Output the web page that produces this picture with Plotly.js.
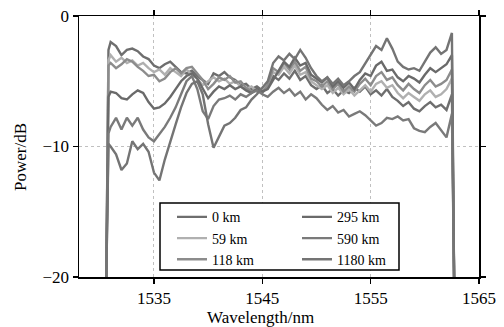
<!DOCTYPE html>
<html>
<head>
<meta charset="utf-8">
<script src="https://cdn.plot.ly/plotly-3.0.1.min.js"></script>
<style>
  html, body { margin: 0; padding: 0; background: #ffffff; }
  #chart { width: 504px; height: 327px; }
</style>
</head>
<body>
<div id="chart"></div>
<script>
// Wavelength grid (nm) shared by all spectra
const wavelength = [
  1530.6, 1530.8, 1531.0, 1531.5, 1532.0, 1532.5, 1533.0, 1533.5, 1534.0, 1534.5,
  1535.0, 1535.5, 1536.0, 1536.5, 1537.0, 1537.5, 1538.0, 1538.5, 1539.0, 1539.5,
  1540.0, 1540.5, 1541.0, 1541.5, 1542.0, 1542.5, 1543.0, 1543.5, 1544.0, 1544.5,
  1545.0, 1545.5, 1546.0, 1546.5, 1547.0, 1547.5, 1548.0, 1548.5, 1549.0, 1549.5,
  1550.0, 1550.5, 1551.0, 1551.5, 1552.0, 1552.5, 1553.0, 1553.5, 1554.0, 1554.5,
  1555.0, 1555.5, 1556.0, 1556.5, 1557.0, 1557.5, 1558.0, 1558.5, 1559.0, 1559.5,
  1560.0, 1560.5, 1561.0, 1561.5, 1562.0, 1562.5, 1562.7
];

// Received power (dB) after each transmission distance
const power0km = [
  -20, -2.6, -2.0, -2.3, -3.0, -2.6, -2.5, -2.7, -3.1, -3.3,
  -3.8, -4.0, -3.7, -3.5, -3.9, -4.3, -4.4, -4.2, -4.6, -4.9,
  -5.2, -4.4, -4.6, -4.3, -4.7, -4.9, -5.3, -5.2, -5.6, -5.4,
  -5.7, -5.5, -4.6, -4.9, -4.4, -4.8, -4.2, -4.9, -4.6, -5.3,
  -5.6, -5.3, -5.9, -5.6, -6.1, -5.7, -5.9, -5.5, -5.8, -5.4,
  -6.0, -5.7, -6.1, -5.6, -6.2, -6.5, -6.9, -6.6, -7.1, -7.3,
  -6.9, -6.6, -7.0, -6.8, -7.2, -6.0, -20
];
const power59km = [
  -20, -3.4, -3.0, -3.5, -3.2, -3.6, -3.4, -3.8, -3.6, -4.0,
  -4.3, -4.1, -4.5, -4.0, -4.3, -4.6, -4.1, -4.5, -4.8, -5.3,
  -5.0, -4.7, -5.0, -4.8, -5.2, -5.0, -5.4, -5.6, -5.4, -5.8,
  -5.6, -5.2, -4.3, -4.5, -3.9, -4.4, -3.8, -4.5, -4.3, -5.0,
  -5.3, -5.6, -5.3, -5.9, -5.5, -6.0, -5.6, -6.1, -5.7, -5.3,
  -5.8, -5.2, -5.0, -5.5, -5.3, -5.9, -6.3, -5.9, -6.2, -6.5,
  -6.0, -5.7, -6.2, -6.0, -5.6, -4.8, -20
];
const power118km = [
  -20, -3.8, -3.6, -4.0, -3.7, -3.3, -3.5, -3.9, -4.2, -4.6,
  -4.5, -5.0, -4.8, -4.3, -4.0, -4.4, -4.0, -3.9, -4.4, -4.9,
  -5.6, -5.2, -4.7, -4.9, -4.6, -5.1, -5.0, -5.5, -5.8, -5.6,
  -5.9, -5.3, -4.0, -4.3, -3.6, -4.1, -3.5, -4.2, -3.9, -4.8,
  -5.0, -5.4, -5.0, -5.6, -5.2, -5.8, -5.4, -5.8, -5.2, -4.8,
  -5.3, -4.6, -4.3, -4.9, -4.7, -5.3, -5.7, -5.2, -5.6, -5.9,
  -5.3, -4.9, -5.4, -5.2, -4.9, -4.1, -20
];
const power295km = [
  -20, -6.2, -5.8, -5.9, -6.3, -6.4, -6.0, -5.7, -5.9, -6.6,
  -7.1, -7.0, -6.7, -6.2, -5.6, -5.0, -4.6, -4.4, -4.8, -5.5,
  -6.3, -5.8, -5.4, -5.6, -5.3, -5.6, -5.4, -5.7, -5.9, -5.6,
  -5.8, -5.6, -4.9, -4.1, -3.5, -3.9, -3.2, -3.8, -3.6, -4.5,
  -4.8, -5.1, -4.7, -5.4, -5.0, -5.5, -5.1, -5.6, -4.9, -4.4,
  -4.6, -3.8, -3.5, -4.2, -4.1, -4.7, -5.0, -4.6, -4.8, -5.1,
  -4.5, -4.0, -4.3, -4.0, -3.7, -3.0, -20
];
const power590km = [
  -20, -9.0, -8.5, -7.8, -8.7, -7.8, -8.4, -7.8, -8.7, -9.3,
  -9.6, -9.0, -8.5, -7.8, -7.0, -6.0, -5.0, -4.6, -5.6, -7.3,
  -7.9, -6.9, -6.4, -6.3, -6.1, -6.4, -6.0, -6.2, -5.9, -5.7,
  -6.0, -6.2, -5.8, -5.5, -5.9, -5.6, -6.1, -5.8, -6.4, -6.0,
  -6.3, -6.8, -7.2, -6.9, -7.4, -7.2, -7.7, -7.5, -7.3, -7.6,
  -8.0, -8.4, -8.2, -7.8, -7.9, -7.7, -8.0, -7.9, -8.6, -8.8,
  -8.9, -8.5, -8.2, -8.8, -9.3, -7.5, -20
];
const power1180km = [
  -20, -9.8, -10.0, -10.6, -11.8, -11.3, -9.6, -10.2, -9.8, -10.4,
  -12.0, -12.6, -11.0, -9.6, -8.3, -7.0, -5.9, -5.2, -5.0, -6.0,
  -8.3, -10.1, -9.2, -8.4, -8.2, -7.8, -7.2, -7.0, -6.4, -6.0,
  -5.5, -5.0, -3.6, -3.1, -3.4, -2.9, -3.3, -2.6, -3.2, -4.0,
  -4.6, -5.0, -4.7, -5.2, -4.8, -5.3, -5.0, -4.6, -4.3, -3.6,
  -3.0, -2.3, -2.6, -1.7, -2.5, -3.5, -3.9, -4.1, -4.0, -4.2,
  -3.5, -2.8, -2.4, -2.9, -2.6, -1.3, -20
];

const distances = ['0 km', '59 km', '118 km', '295 km', '590 km', '1180 km'];
const spectra = [power0km, power59km, power118km, power295km, power590km, power1180km];
const lineColors = ['#6e6e6e', '#b0b0b0', '#8c8c8c', '#6a6a6a', '#7a7a7a', '#747474'];
const legendGroups = ['legend', 'legend', 'legend', 'legend2', 'legend2', 'legend2'];

const traces = spectra.map((p, i) => ({
  type: 'scatter',
  mode: 'lines',
  x: wavelength,
  y: p,
  name: distances[i],
  legend: legendGroups[i],
  line: { color: lineColors[i], width: 2.4 },
  hoverinfo: 'skip'
}));

function axisStyle() {
  return {
    showline: true,
    linecolor: '#000',
    linewidth: 1.5,
    mirror: 'ticks',
    ticks: 'outside',
    ticklen: 5,
    tickwidth: 1.5,
    tickcolor: '#000',
    showgrid: true,
    gridcolor: '#c0c0c0',
    gridwidth: 1,
    griddash: 'dot',
    zeroline: false,
    tickfont: { family: 'Liberation Serif', size: 17, color: '#000' }
  };
}

function legendStyle(xPos) {
  return {
    x: xPos,
    y: 0.29,
    xanchor: 'left',
    yanchor: 'top',
    bgcolor: 'rgba(0,0,0,0)',
    borderwidth: 0,
    tracegroupgap: 0,
    font: { family: 'Liberation Serif', size: 14, color: '#000' }
  };
}

const xaxis = axisStyle();
xaxis.range = [1528.08, 1565];
xaxis.tickvals = [1535, 1545, 1555, 1565];

const yaxis = axisStyle();
yaxis.range = [-20, 0];
yaxis.tickvals = [0, -10, -20];

const layout = {
  width: 504,
  height: 327,
  margin: { l: 79, r: 25, t: 16, b: 50 },
  paper_bgcolor: '#fff',
  plot_bgcolor: '#fff',
  showlegend: true,
  font: { family: 'Liberation Serif', color: '#000' },
  xaxis: xaxis,
  yaxis: yaxis,
  legend: legendStyle(0.2325),
  legend2: legendStyle(0.545),
  shapes: [{
    type: 'rect', xref: 'paper', yref: 'paper',
    x0: 0.2025, x1: 0.8, y0: 0.0268, y1: 0.2835,
    line: { color: '#000', width: 1.5 },
    fillcolor: '#fff',
    layer: 'above'
  }],
  annotations: [
    {
      text: 'Wavelength/nm', xref: 'paper', yref: 'paper',
      x: 0.4525, y: -0.157, xanchor: 'center', yanchor: 'middle',
      showarrow: false, font: { family: 'Liberation Serif', size: 17, color: '#000' }
    },
    {
      text: 'Power/dB', xref: 'paper', yref: 'paper',
      x: -0.145, y: 0.46, xanchor: 'center', yanchor: 'middle',
      textangle: -90, showarrow: false,
      font: { family: 'Liberation Serif', size: 17, color: '#000' }
    }
  ]
};

Plotly.newPlot('chart', traces, layout, { staticPlot: true, displayModeBar: false });
</script>
</body>
</html>
